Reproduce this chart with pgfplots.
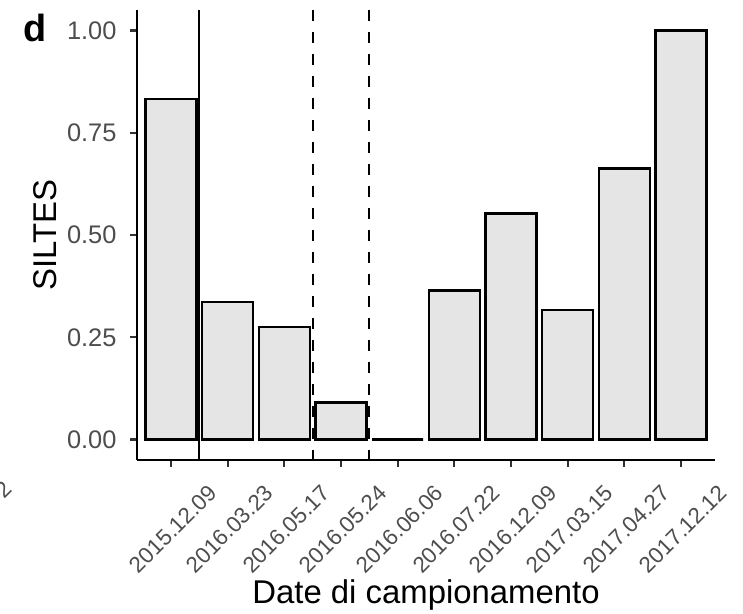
\documentclass[border=0pt]{standalone}
\usepackage{fontspec}
\setmainfont{Liberation Sans}
\usepackage{pgfplots}
\pgfplotsset{compat=1.18}
\definecolor{barfill}{HTML}{E5E5E5}
\definecolor{tickgray}{HTML}{333333}
\definecolor{labgray}{HTML}{4D4D4D}
\begin{document}
\begin{tikzpicture}[x=1bp,y=1bp]
\path[use as bounding box] (0,0) rectangle (743,614);
\begin{axis}[
  at={(137bp,154bp)}, anchor=south west,
  scale only axis, width=578bp, height=450bp,
  xmin=0.4, xmax=10.6, ymin=-0.05, ymax=1.05,
  axis x line*=bottom, axis y line*=left,
  axis line style={line width=2.4bp, black},
  xtick={1,...,10},
  xticklabels={2015.12.09,2016.03.23,2016.05.17,2016.05.24,2016.06.06,2016.07.22,2016.12.09,2017.03.15,2017.04.27,2017.12.12},
  ytick={0,0.25,0.5,0.75,1},
  yticklabels={0.00,0.25,0.50,0.75,1.00},
  tick align=outside,
  major tick length=7bp,
  tick style={line width=2.2bp, tickgray},
  yticklabel style={font=\fontsize{25.5}{28}\selectfont, text=labgray, anchor=east, xshift=-10bp},
  xticklabel style={font=\fontsize{22.5}{26}\selectfont, text=labgray, anchor=center, xshift=2bp, yshift=-62bp, rotate=45},
  xlabel={Date di campionamento}, ylabel={SILTES},
  label style={font=\fontsize{33}{36}\selectfont},
  xlabel style={at={(axis description cs:0.5,-0.30)}, anchor=center},
  ylabel style={at={(axis description cs:-0.159,0.5)}, anchor=center},
  clip=true,
]
\addplot[ybar, bar width=0.9, fill=barfill, draw=black, line width=2.4bp]
  coordinates {(1,0.833) (2,0.336) (3,0.275) (4,0.091) (5,0) (6,0.364) (7,0.553) (8,0.317) (9,0.663) (10,1.0)};
\addplot[black, line width=2.2bp] coordinates {(1.5,1.05) (1.5,-0.05)};
\addplot[black, line width=2.2bp, dash pattern=on 11bp off 11bp] coordinates {(3.5,1.05) (3.5,-0.05)};
\addplot[black, line width=2.2bp, dash pattern=on 11bp off 11bp] coordinates {(4.5,1.05) (4.5,-0.05)};
\end{axis}
\node[font=\fontsize{38}{40}\selectfont\bfseries] at (35,586) {d};
\node[rotate=45, font=\fontsize{22.5}{26}\selectfont, text=labgray] at (3,124) {2};
\end{tikzpicture}
\end{document}
